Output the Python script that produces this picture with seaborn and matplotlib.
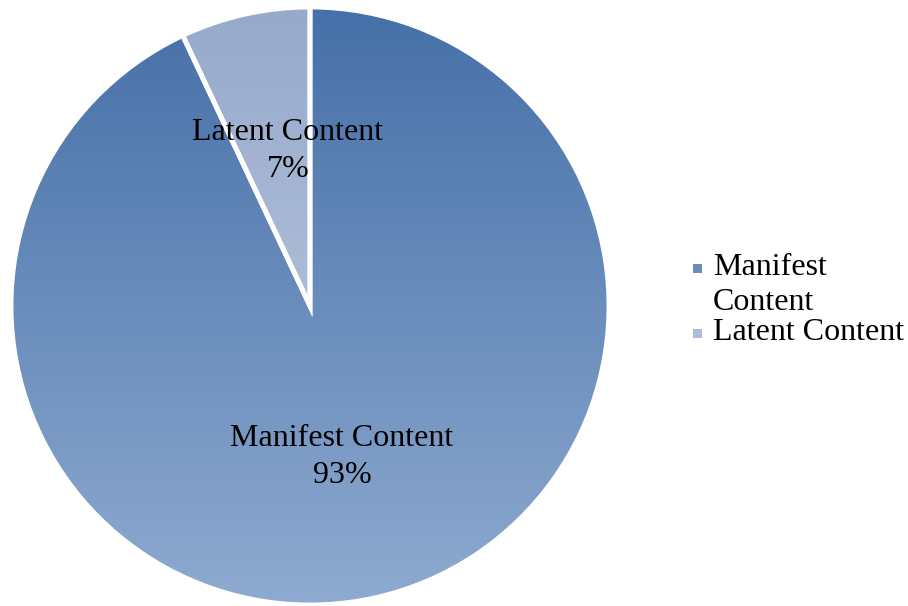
import numpy as np
import matplotlib
matplotlib.use("Agg")
import matplotlib.pyplot as plt
import matplotlib.colors as mcolors
from matplotlib.patches import Rectangle
import seaborn as sns

categories = ["Manifest Content", "Latent Content"]
values = [93, 7]
legend_labels = ["Manifest\nContent", "Latent Content"]
top_colors = ["#4670a8", "#97aacb"]
bottom_colors = ["#8eaad0", "#c2cfe6"]

sns.set_style("white")
plt.rcParams['font.family'] = ['Liberation Serif', 'DejaVu Serif']

W, H = 908, 606
fig = plt.figure(figsize=(W / 100, H / 100), dpi=100)
ax = fig.add_axes([0, 0, 1, 1])
cx, cy, R = 310, 306, 299
ax.set_xlim(-cx / R, (W - cx) / R)
ax.set_ylim(-(H - cy) / R, cy / R)
ax.set_aspect("equal")
ax.axis("off")

wedges, _ = ax.pie(values, startangle=90, counterclock=False, radius=1.0,
                   wedgeprops=dict(edgecolor="white", linewidth=3.5),
                   colors=["none", "none"])

for w, tc, bc in zip(wedges, top_colors, bottom_colors):
    cmap = mcolors.LinearSegmentedColormap.from_list("g", [tc, bc])
    grad = np.linspace(0, 1, 256).reshape(-1, 1)
    im = ax.imshow(grad, cmap=cmap, aspect="auto", extent=(-1, 1, -1, 1),
                   origin="upper", zorder=1)
    im.set_clip_path(w)
    w.set_zorder(2)

ax.set_xlim(-cx / R, (W - cx) / R)
ax.set_ylim(-(H - cy) / R, cy / R)

def to_data(px, py):
    return (px - cx) / R, (cy - py) / R

x, y = to_data(288, 151)
ax.text(x, y, f"{categories[1]}\n{values[1]}%", ha="center", va="center",
        fontsize=23, linespacing=1.35, color="black", zorder=5)
x, y = to_data(342, 457)
ax.text(x, y, f"{categories[0]}\n{values[0]}%", ha="center", va="center",
        fontsize=23, linespacing=1.35, color="black", zorder=5)

leg_items = [(legend_labels[0], 268, top_colors[0], bottom_colors[0]),
             (legend_labels[1], 333, top_colors[1], bottom_colors[1])]
for lab, py, tc, bc in leg_items:
    mid = mcolors.to_hex(np.mean([mcolors.to_rgb(tc), mcolors.to_rgb(bc)], axis=0))
    fig.patches.append(Rectangle((693 / W, 1 - (py + 5) / H), 9 / W, 9 / H,
                                 transform=fig.transFigure, facecolor=mid,
                                 edgecolor="none"))
    fig.text(713 / W, 1 - (py - 15) / H, lab, ha="left", va="top",
             fontsize=23, linespacing=1.25, color="black")

fig.savefig("out.png", dpi=100)
